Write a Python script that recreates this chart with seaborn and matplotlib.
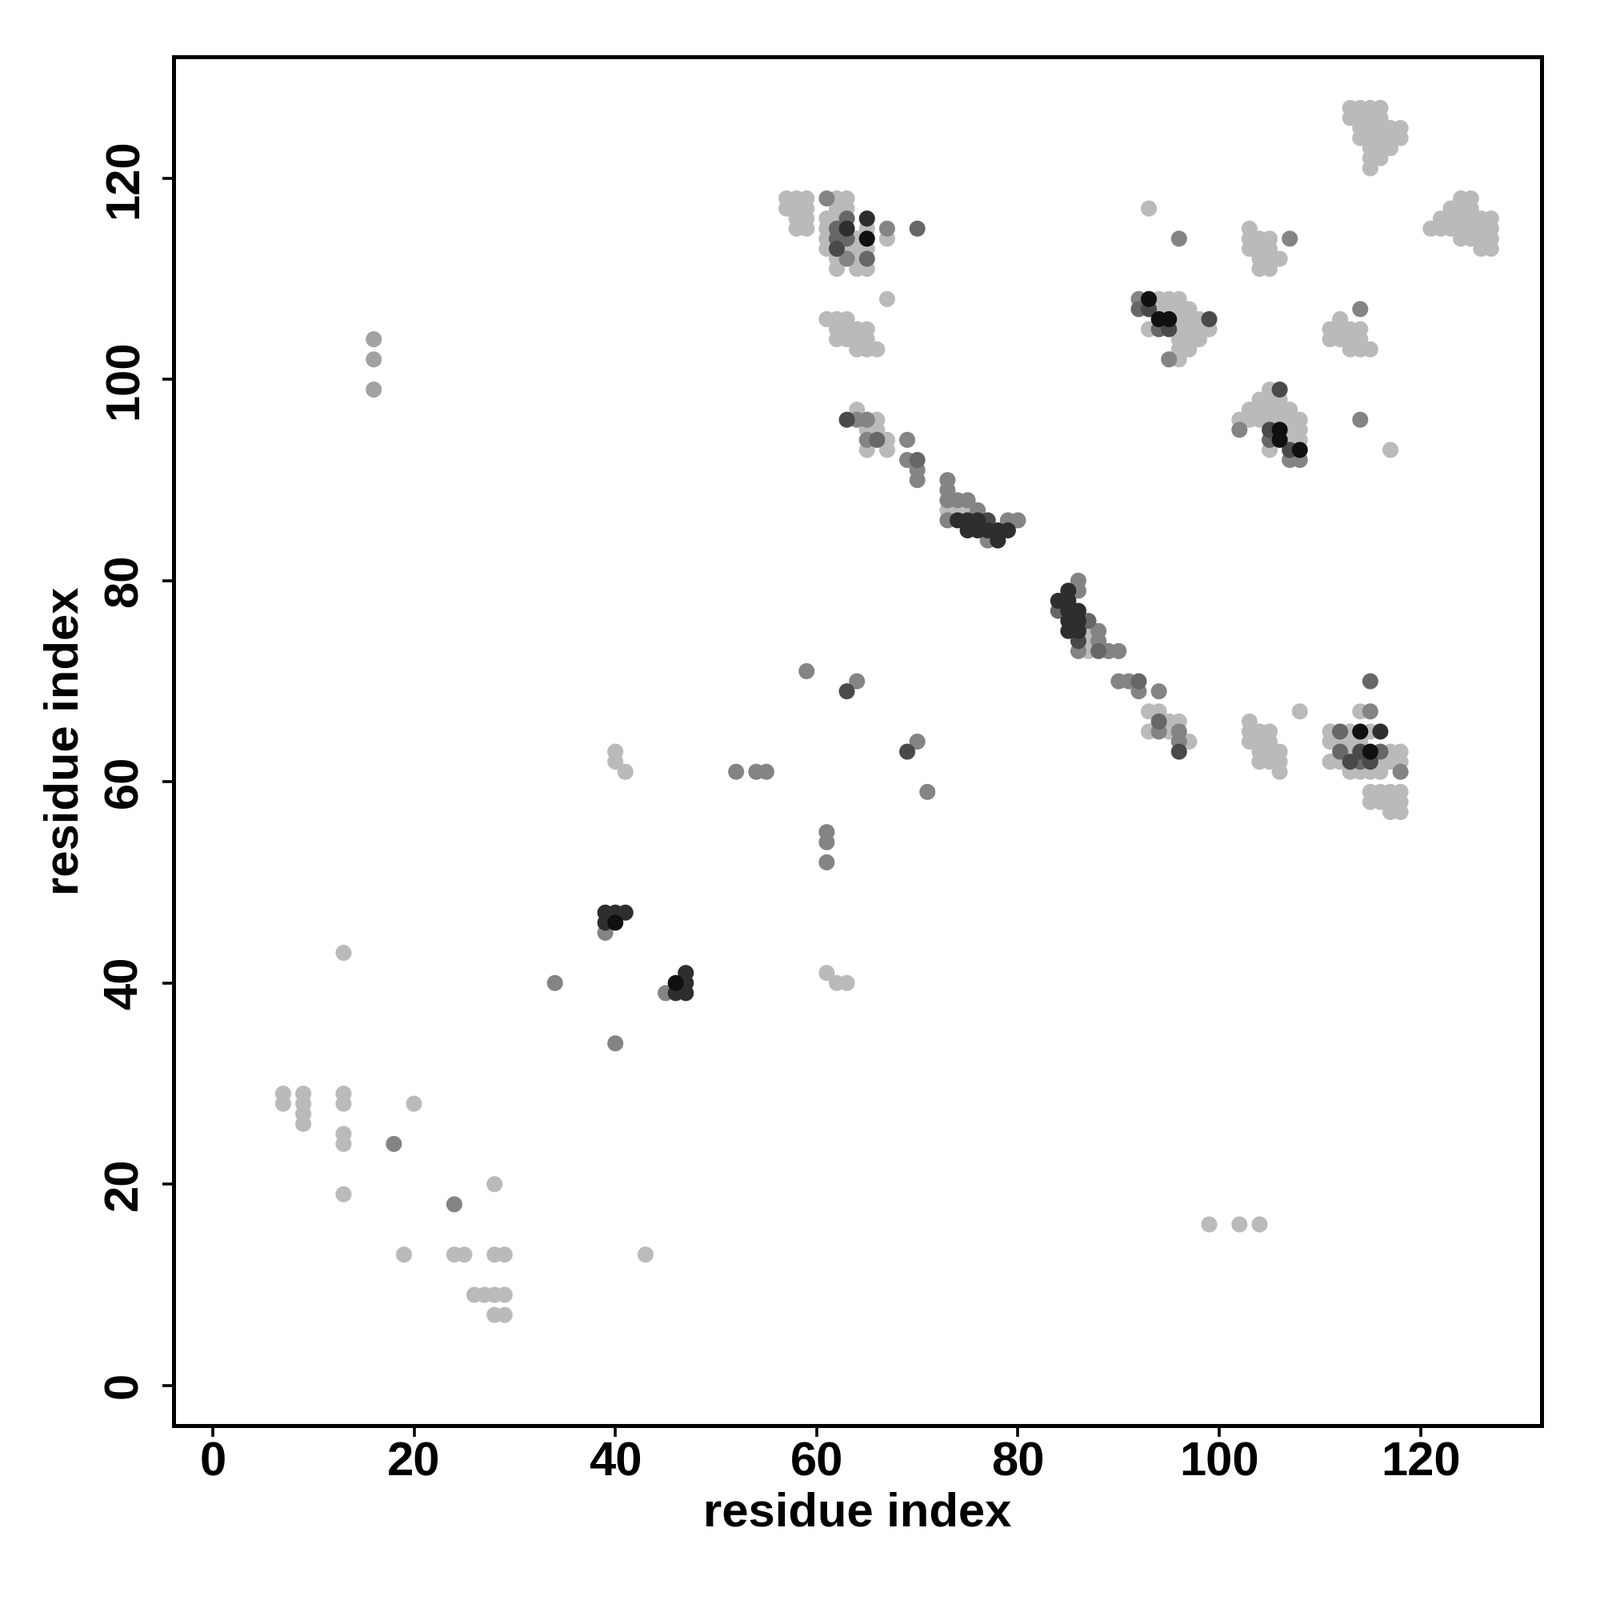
import matplotlib
matplotlib.use("Agg")
import matplotlib.pyplot as plt
import seaborn as sns
import pandas as pd

# contacts: (i, j, shade level) ; 1 = light gray ... 7 = black
low_left = [
    (13, 43, 1), (7, 29, 1), (7, 28, 1), (9, 29, 1), (9, 28, 1), (9, 27, 1), (9, 26, 1),
    (13, 29, 1), (13, 28, 1), (13, 25, 1), (13, 24, 1), (13, 19, 1), (20, 28, 1),
    (18, 24, 3), (28, 20, 1), (24, 18, 3), (19, 13, 1), (24, 13, 1), (25, 13, 1),
    (28, 13, 1), (29, 13, 1), (26, 9, 1), (27, 9, 1), (28, 9, 1), (29, 9, 1),
    (28, 7, 1), (29, 7, 1), (43, 13, 1),
    (16, 104, 2), (16, 102, 2), (16, 99, 2), (99, 16, 1), (102, 16, 1), (104, 16, 1),
]

middle = [
    (34, 40, 3), (40, 34, 3),
    (39, 47, 6), (40, 47, 6), (41, 47, 6), (39, 46, 6), (40, 46, 7), (39, 45, 3),
    (47, 41, 6), (46, 40, 7), (47, 40, 6), (45, 39, 3), (46, 39, 6), (47, 39, 6),
    (61, 41, 1), (62, 40, 1), (63, 40, 1), (40, 63, 1), (40, 62, 1), (41, 61, 1),
    (52, 61, 3), (54, 61, 3), (55, 61, 3), (59, 71, 3), (64, 70, 3), (63, 69, 5),
    (70, 64, 3), (69, 63, 5), (71, 59, 3), (61, 55, 3), (61, 54, 3), (61, 52, 3),
]

diag_low = [
    (86, 80, 3), (86, 79, 3), (85, 79, 6), (84, 78, 6), (85, 78, 6), (84, 77, 4),
    (85, 77, 6), (86, 77, 6), (85, 76, 6), (86, 76, 6), (87, 76, 4), (85, 75, 6),
    (86, 75, 6), (87, 75, 1), (88, 75, 3), (86, 74, 5), (87, 74, 1), (88, 74, 3),
    (86, 73, 3), (87, 73, 1), (88, 73, 4), (89, 73, 3), (90, 73, 3),
    (90, 70, 3), (91, 70, 3), (92, 70, 4), (92, 69, 3), (94, 69, 3),
    (93, 67, 1), (94, 67, 1), (93, 65, 1), (94, 66, 4), (94, 65, 3), (95, 66, 1),
    (96, 66, 1), (95, 65, 1), (96, 65, 3), (96, 64, 3), (97, 64, 1), (96, 63, 5),
]

right_low = [
    (115, 70, 4), (108, 67, 1), (114, 67, 1), (115, 67, 3),
    (103, 66, 1), (103, 65, 1), (104, 65, 1), (105, 65, 1), (103, 64, 1), (104, 64, 1),
    (105, 64, 1), (104, 63, 1), (105, 63, 1), (106, 63, 1), (104, 62, 1), (105, 62, 1),
    (106, 62, 1), (106, 61, 1),
    (111, 65, 1), (112, 65, 4), (113, 65, 1), (114, 65, 7), (115, 65, 1), (116, 65, 6),
    (111, 64, 1), (112, 64, 1), (113, 64, 1), (114, 64, 1),
    (112, 63, 4), (113, 63, 1), (114, 63, 5), (115, 63, 7), (116, 63, 4), (117, 63, 1),
    (118, 63, 1),
    (111, 62, 1), (112, 62, 1), (113, 62, 5), (114, 62, 4), (115, 62, 5), (116, 62, 1),
    (117, 62, 1), (118, 62, 1),
    (113, 61, 1), (114, 61, 1), (115, 61, 1), (116, 61, 1), (118, 61, 3),
    (115, 59, 1), (116, 59, 1), (117, 59, 1), (118, 59, 1),
    (115, 58, 1), (116, 58, 1), (117, 58, 1), (118, 58, 1), (117, 57, 1), (118, 57, 1),
]

diag_high = [
    (64, 97, 1), (63, 96, 5), (64, 96, 3), (65, 96, 3), (66, 96, 1), (65, 95, 1),
    (66, 95, 1), (65, 94, 3), (66, 94, 4), (67, 94, 1), (65, 93, 1), (67, 93, 1),
    (69, 94, 3), (69, 92, 3), (70, 92, 4), (70, 91, 3), (70, 90, 3),
    (73, 90, 3), (73, 89, 3), (73, 88, 3), (74, 88, 3), (75, 88, 3), (73, 87, 1),
    (74, 87, 1), (75, 87, 1), (76, 87, 3), (73, 86, 3), (74, 86, 6), (75, 86, 6),
    (76, 86, 6), (77, 86, 5), (79, 86, 3), (80, 86, 3), (75, 85, 6), (76, 85, 6),
    (77, 85, 6), (78, 85, 6), (79, 85, 6), (77, 84, 3), (78, 84, 6),
]

mid_right = [
    (106, 99, 5), (105, 99, 1), (104, 98, 1), (105, 98, 1), (106, 98, 1),
    (103, 97, 1), (104, 97, 1), (105, 97, 1), (106, 97, 1), (107, 97, 1),
    (102, 96, 1), (103, 96, 1), (104, 96, 1), (105, 96, 1), (106, 96, 1), (107, 96, 1),
    (108, 96, 1), (102, 95, 3), (105, 95, 5), (106, 95, 7), (107, 95, 1), (108, 95, 1),
    (105, 94, 4), (106, 94, 7), (107, 94, 1), (108, 94, 1), (105, 93, 1), (107, 93, 5),
    (108, 93, 7), (107, 92, 3), (108, 92, 3), (114, 96, 3), (117, 93, 1),
    (92, 108, 3), (93, 108, 7), (94, 108, 1), (95, 108, 1), (96, 108, 1),
    (92, 107, 4), (93, 107, 5), (94, 107, 1), (95, 107, 1), (96, 107, 1), (97, 107, 1),
    (94, 106, 7), (95, 106, 7), (96, 106, 1), (97, 106, 1), (98, 106, 1), (99, 106, 5),
    (93, 105, 1), (94, 105, 4), (95, 105, 5), (96, 105, 1), (97, 105, 1), (98, 105, 1),
    (99, 105, 1), (96, 104, 1), (97, 104, 1), (98, 104, 1), (96, 103, 1), (97, 103, 1),
    (95, 102, 3), (96, 102, 1),
]

top_left = [
    (57, 118, 1), (58, 118, 1), (59, 118, 1), (61, 118, 3), (62, 118, 1), (63, 118, 1),
    (57, 117, 1), (58, 117, 1), (59, 117, 1), (62, 117, 1), (63, 117, 1),
    (58, 116, 1), (59, 116, 1), (61, 116, 1), (62, 116, 1), (63, 116, 4), (65, 116, 6),
    (58, 115, 1), (59, 115, 1), (61, 115, 1), (62, 115, 4), (63, 115, 6), (65, 115, 1),
    (67, 115, 3), (70, 115, 4),
    (61, 114, 1), (62, 114, 4), (63, 114, 4), (64, 114, 1), (65, 114, 7), (67, 114, 1),
    (61, 113, 1), (62, 113, 5), (63, 113, 1), (64, 113, 1), (65, 113, 1),
    (62, 112, 1), (63, 112, 3), (64, 112, 1), (65, 112, 4),
    (62, 111, 1), (64, 111, 1), (65, 111, 1), (67, 108, 1),
    (61, 106, 1), (62, 106, 1), (63, 106, 1),
    (62, 105, 1), (63, 105, 1), (64, 105, 1), (65, 105, 1),
    (62, 104, 1), (63, 104, 1), (64, 104, 1), (65, 104, 1),
    (64, 103, 1), (65, 103, 1), (66, 103, 1),
]

top_right = [
    (113, 127, 1), (114, 127, 1), (115, 127, 1), (116, 127, 1),
    (113, 126, 1), (114, 126, 1), (115, 126, 1), (116, 126, 1),
    (114, 125, 1), (115, 125, 1), (116, 125, 1), (117, 125, 1), (118, 125, 1),
    (114, 124, 1), (115, 124, 1), (116, 124, 1), (117, 124, 1), (118, 124, 1),
    (115, 123, 1), (116, 123, 1), (117, 123, 1), (115, 122, 1), (116, 122, 1), (115, 121, 1),
    (124, 118, 1), (125, 118, 1), (123, 117, 1), (124, 117, 1), (125, 117, 1),
    (122, 116, 1), (123, 116, 1), (124, 116, 1), (125, 116, 1), (126, 116, 1), (127, 116, 1),
    (121, 115, 1), (122, 115, 1), (123, 115, 1), (124, 115, 1), (125, 115, 1), (126, 115, 1),
    (127, 115, 1), (124, 114, 1), (125, 114, 1), (126, 114, 1), (127, 114, 1),
    (126, 113, 1), (127, 113, 1),
    (93, 117, 1), (96, 114, 3), (103, 115, 1), (103, 114, 1), (104, 114, 1), (105, 114, 1),
    (103, 113, 1), (104, 113, 1), (105, 113, 1), (104, 112, 1), (105, 112, 1), (106, 112, 1),
    (104, 111, 1), (105, 111, 1), (107, 114, 3),
    (114, 107, 3), (112, 106, 1), (111, 105, 1), (112, 105, 1), (113, 105, 1), (114, 105, 1),
    (111, 104, 1), (112, 104, 1), (113, 104, 1), (114, 104, 1),
    (113, 103, 1), (114, 103, 1), (115, 103, 1),
]

shades = {1: "#bababa", 2: "#a2a2a2", 3: "#848484", 4: "#676767",
          5: "#4a4a4a", 6: "#2e2e2e", 7: "#101010"}

rows = low_left + middle + diag_low + right_low + diag_high + mid_right + top_left + top_right
df = pd.DataFrame(rows, columns=["i", "j", "level"]).sort_values("level")

sns.set_style("ticks")
plt.rcParams["font.family"] = ["Liberation Sans", "DejaVu Sans"]
plt.rcParams["font.weight"] = "bold"
for key in ["text.color", "axes.labelcolor", "xtick.color", "ytick.color", "axes.edgecolor"]:
    plt.rcParams[key] = "black"

fig = plt.figure(figsize=(10, 10), dpi=200)
ax = fig.add_axes([0.1084, 0.109, 0.8553, 0.8553])
sns.scatterplot(data=df, x="i", y="j", hue="level", palette=shades, s=52,
                linewidth=0, legend=False, ax=ax)

ax.set_xlim(-3.9, 132.05)
ax.set_ylim(-4.0, 132.05)
ax.set_xticks(range(0, 121, 20))
ax.set_yticks(range(0, 121, 20))
for sp in ax.spines.values():
    sp.set_linewidth(1.8)
    sp.set_color("black")
ax.tick_params(axis="both", length=5, width=1.3, labelsize=21.5, colors="black")
ax.tick_params(axis="x", pad=2)
ax.tick_params(axis="y", pad=7)
for lab in ax.get_yticklabels():
    lab.set_rotation(90)
    lab.set_va("center")
for lab in ax.get_xticklabels() + ax.get_yticklabels():
    lab.set_fontweight("bold")
ax.set_xlabel("residue index", fontsize=21.5, fontweight="bold", labelpad=3)
ax.set_ylabel("residue index", fontsize=21.5, fontweight="bold", labelpad=7)

fig.savefig("out.png", dpi=200, facecolor="white")
